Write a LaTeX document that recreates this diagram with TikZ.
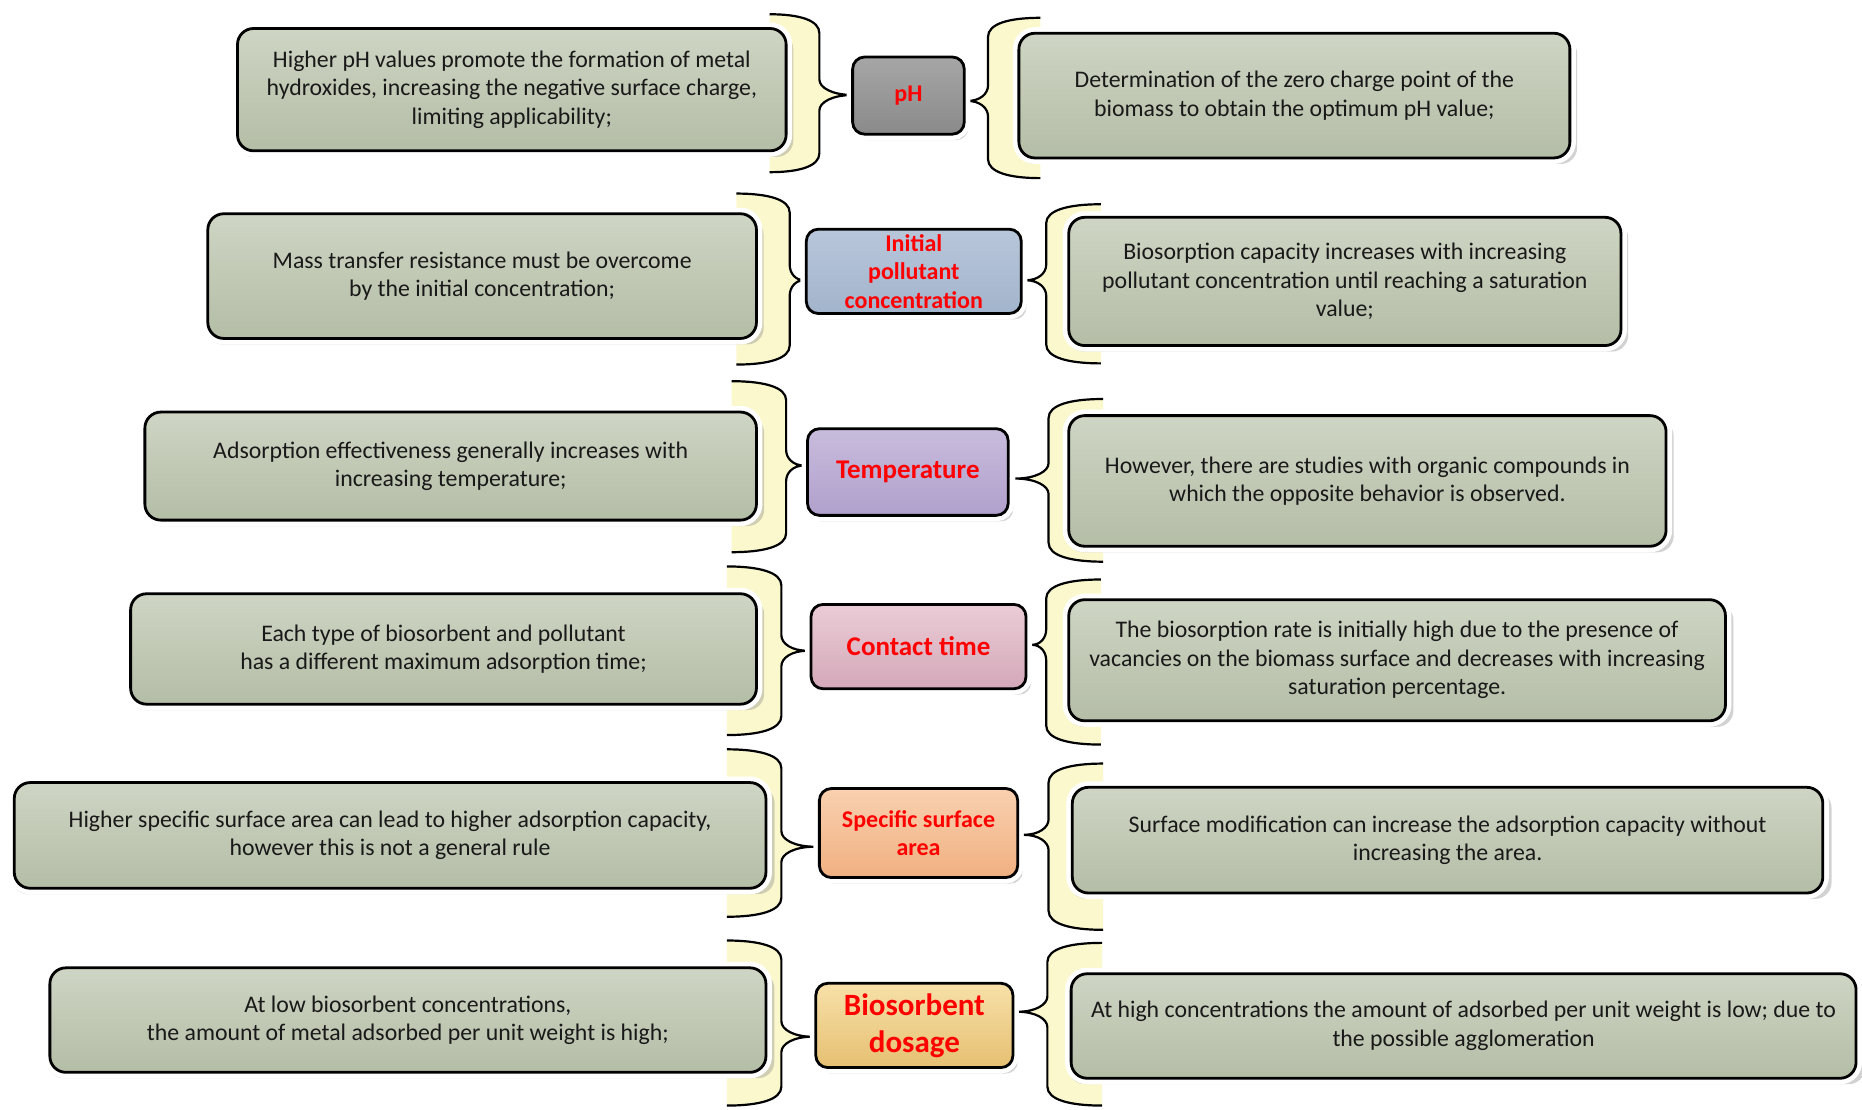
\documentclass[tikz,border=0pt]{standalone}
\usepackage{fontspec}
\setmainfont{Carlito}
\usetikzlibrary{shadows}
\definecolor{bfill}{RGB}{252,248,206}
\definecolor{sgtop}{RGB}{206,213,196}
\definecolor{sgbot}{RGB}{180,189,166}
\definecolor{phtop}{RGB}{166,166,166}
\definecolor{phbot}{RGB}{138,138,138}
\definecolor{iptop}{RGB}{184,198,218}
\definecolor{ipbot}{RGB}{162,180,204}
\definecolor{tetop}{RGB}{200,188,220}
\definecolor{tebot}{RGB}{176,160,204}
\definecolor{cttop}{RGB}{234,204,214}
\definecolor{ctbot}{RGB}{212,168,184}
\definecolor{sstop}{RGB}{249,208,176}
\definecolor{ssbot}{RGB}{240,176,128}
\definecolor{bdtop}{RGB}{247,224,168}
\definecolor{bdbot}{RGB}{230,192,114}
\newcommand\SBox[6]{\node[sidebox, minimum width={(#4-#2)*0.59375pt}, minimum height={(#5-#3)*0.59375pt}] (#1) at ({(#2+#4)/2},{(#3+#5)/2}) {#6};}
\newcommand\CBox[9]{\node[centbox, top color=#6, bottom color=#7, #8, minimum width={(#4-#2)*0.59375pt}, minimum height={(#5-#3)*0.59375pt}] (#1) at ({(#2+#4)/2},{(#3+#5)/2}) {#9};}
% "}" shaped brace: xL xs xt top tip bottom
\newcommand\BraceL[6]{\draw[bracestyle] (#1,#4) .. controls ({#1+0.6*(#2-#1)},#4) and (#2,{#4+5}) .. (#2,{#4+16}) -- (#2,{#5-13}) .. controls (#2,{#5-6}) and ({#2+0.4*(#3-#2)},#5) .. (#3,#5) .. controls ({#2+0.4*(#3-#2)},#5) and (#2,{#5+6}) .. (#2,{#5+13}) -- (#2,{#6-16}) .. controls (#2,{#6-5}) and ({#1+0.6*(#2-#1)},#6) .. (#1,#6);}
% "{" shaped brace: xR xs xt top tip bottom
\newcommand\BraceR[6]{\draw[bracestyle] (#1,#4) .. controls ({#1+0.6*(#2-#1)},#4) and (#2,{#4+5}) .. (#2,{#4+16}) -- (#2,{#5-13}) .. controls (#2,{#5-6}) and ({#2+0.4*(#3-#2)},#5) .. (#3,#5) .. controls ({#2+0.4*(#3-#2)},#5) and (#2,{#5+6}) .. (#2,{#5+13}) -- (#2,{#6-16}) .. controls (#2,{#6-5}) and ({#1+0.6*(#2-#1)},#6) .. (#1,#6);}
\begin{document}
\begin{tikzpicture}[x=0.59375pt,y=-0.59375pt,
  bracestyle/.style={fill=bfill, draw=black, line width=1.1pt},
  sidebox/.style={rectangle, rounded corners=8pt, draw=black, line width=1.4pt,
    top color=sgtop, bottom color=sgbot,
    drop shadow={shadow xshift=1.5pt, shadow yshift=-2.5pt, shadow scale=1.015, opacity=0.35},
    preaction={draw=white, line width=6pt},
    align=center, inner sep=0pt, text=black!90,
    font=\fontsize{11.9}{14.25}\selectfont},
  centbox/.style={rectangle, rounded corners=6pt, draw=black, line width=1.4pt,
    drop shadow={shadow xshift=1.5pt, shadow yshift=-2.5pt, shadow scale=1.02, opacity=0.35},
    preaction={draw=white, line width=6pt},
    align=center, inner sep=0pt, text=red,
    font=\bfseries\fontsize{12}{14.25}\selectfont},
  bigc/.style={font=\bfseries\fontsize{13.5}{16}\selectfont},
  hugec/.style={font=\bfseries\fontsize{15.5}{18.4}\selectfont},
  normc/.style={}
]
\useasboundingbox (0,0) rectangle (1568,934);
\fill[white] (0,0) rectangle (1568,934);

% braces
\BraceL{648}{690}{718}{12}{80}{145}
\BraceR{876}{832}{815}{15}{85}{150}
\BraceL{620}{665}{677}{163}{236}{307}
\BraceR{927}{881}{864}{172}{236}{306}
\BraceL{616}{662}{677}{321}{392}{465}
\BraceR{929}{883}{855}{336}{403}{473}
\BraceL{612}{658}{680}{477}{548}{619}
\BraceR{927}{881}{869}{488}{543}{627}
\BraceL{612}{658}{686}{631}{713}{772}
\BraceR{929}{883}{862}{643}{703}{783}
\BraceL{612}{658}{684}{792}{873}{931}
\BraceR{928}{882}{857}{794}{852}{931}

% side boxes
\SBox{l1}{200}{24}{662}{127}{Higher pH values promote the formation of metal\\hydroxides, increasing the negative surface charge,\\limiting applicability;}
\SBox{r1}{858}{28}{1322}{133}{Determination of the zero charge point of the\\biomass to obtain the optimum pH value;}
\SBox{l2}{175}{180}{637}{285}{Mass transfer resistance must be overcome\\by the initial concentration;}
\SBox{r2}{900}{183}{1365}{291}{Biosorption capacity increases with increasing\\pollutant concentration until reaching a saturation\\value;}
\SBox{l3}{122}{347}{637}{438}{Adsorption effectiveness generally increases with\\increasing temperature;}
\SBox{r3}{900}{350}{1403}{460}{However, there are studies with organic compounds in\\which the opposite behavior is observed.}
\SBox{l4}{110}{500}{637}{593}{Each type of biosorbent and pollutant\\has a different maximum adsorption time;}
\SBox{r4}{900}{505}{1453}{607}{The biosorption rate is initially high due to the presence of\\vacancies on the biomass surface and decreases with increasing\\saturation percentage.}
\SBox{l5}{12}{659}{645}{748}{Higher specific surface area can lead to higher adsorption capacity,\\however this is not a general rule}
\SBox{r5}{903}{663}{1535}{752}{Surface modification can increase the adsorption capacity without\\increasing the area.}
\SBox{l6}{42}{815}{645}{903}{At low biosorbent concentrations,\\the amount of metal adsorbed per unit weight is high;}
\SBox{r6}{902}{820}{1563}{908}{At high concentrations the amount of adsorbed per unit weight is low; due to\\the possible agglomeration}

% centre boxes
\CBox{c1}{718}{48}{812}{113}{phtop}{phbot}{normc}{pH}
\CBox{c2}{679}{193}{860}{264}{iptop}{ipbot}{normc}{Initial\\pollutant\\concentration}
\CBox{c3}{680}{361}{849}{434}{tetop}{tebot}{bigc}{Temperature}
\CBox{c4}{683}{509}{864}{580}{cttop}{ctbot}{bigc}{Contact time}
\CBox{c5}{690}{664}{857}{739}{sstop}{ssbot}{normc}{Specific surface\\area}
\CBox{c6}{687}{828}{853}{899}{bdtop}{bdbot}{hugec}{Biosorbent\\dosage}
\end{tikzpicture}
\end{document}
